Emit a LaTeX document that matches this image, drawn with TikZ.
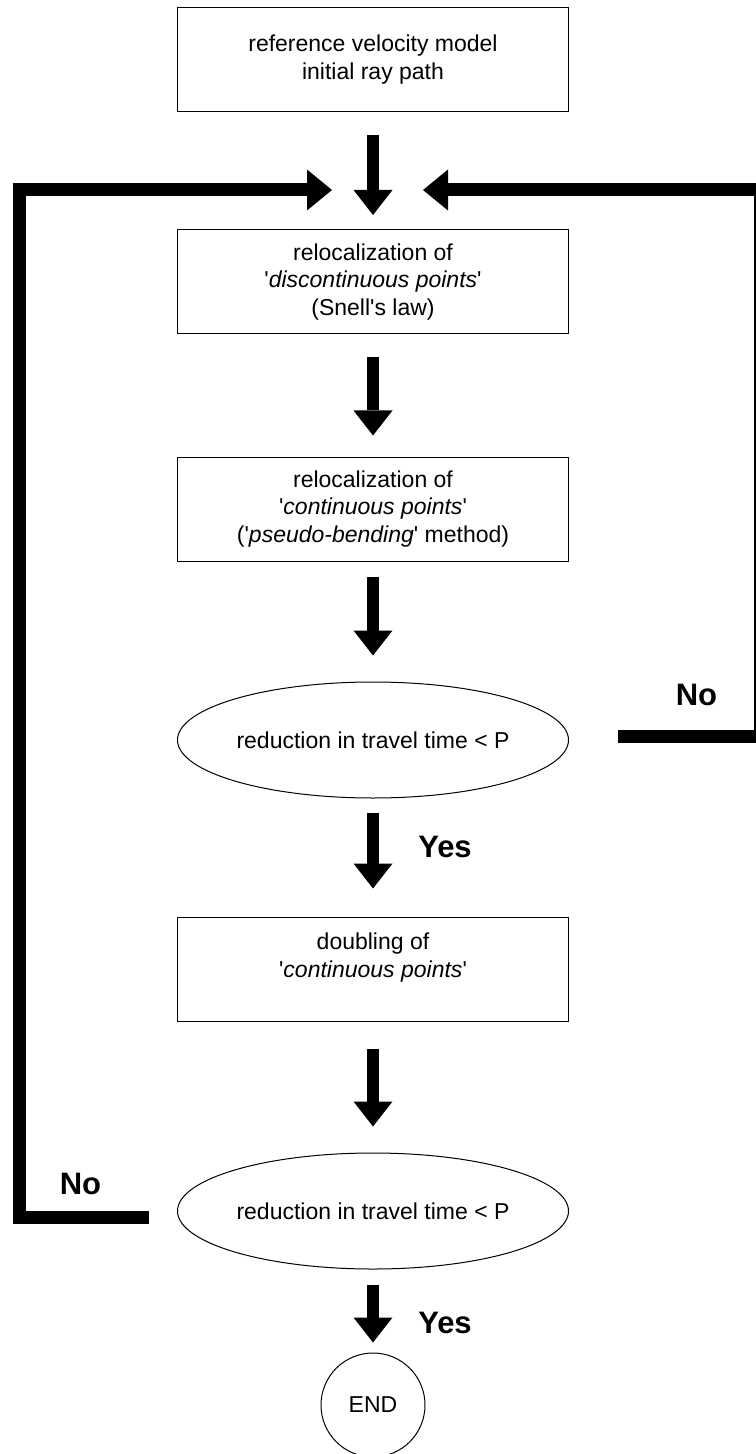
\documentclass[tikz,border=0pt]{standalone}
\usepackage{fontspec}
\setmainfont{Liberation Sans}
\usetikzlibrary{arrows.meta,shapes.geometric}
\newcommand{\apos}{\textquotesingle}

\begin{document}
\begin{tikzpicture}[x=0.5pt, y=-0.5pt,
        proc/.style={draw, line width=0.5pt, minimum width=195.5pt, minimum height=52pt,
                     inner sep=0pt, align=center, font=\fontsize{11.5}{13.8}\selectfont},
        test/.style={draw, ellipse, line width=0.5pt, minimum width=195.5pt, minimum height=58pt,
                     inner sep=0pt, font=\fontsize{11.5}{13.8}\selectfont},
        term/.style={draw, circle, line width=0.5pt, minimum size=52pt, inner sep=0pt,
                     font=\fontsize{11.5}{13.8}\selectfont},
        ans/.style={inner sep=0pt, font=\fontsize{15.5}{18}\selectfont\bfseries},
        flow/.style={line width=6pt, -{Triangle[width=19.5pt, length=12.5pt, line width=0pt]}},
        back/.style={line width=6.5pt, line join=miter, -{Triangle[width=20.5pt, length=12.5pt, line width=0pt]}}]
        \useasboundingbox (0,0) rectangle (755,1454);

        % Steps
        \node[proc] (model) at (373, 59.5) {reference velocity model\\ initial ray path};
        \node[proc] (disc) at (373, 282) {relocalization of\\ \apos\textit{discontinuous points}\apos\\ (Snell\apos s law)};
        \node[proc] (cont) at (373, 509) {relocalization of\\ \apos\textit{continuous points}\apos\\ (\apos\textit{pseudo-bending}\apos{} method)};
        \node[test] (check1) at (373, 740) {reduction in travel time < P};
        \node[proc] (double) at (373, 969) {doubling of\\ \apos\textit{continuous points}\apos\\ \mbox{}};
        \node[test] (check2) at (373, 1211) {reduction in travel time < P};
        \node[term] (stop) at (373, 1405) {END};

        % Meeting point of the three arrows and loose ends of the loops
        \coordinate (join) at (373, 215);
        \coordinate (inL) at (332, 190);
        \coordinate (inR) at (423, 190);
        \coordinate (noL) at (149, 1217);
        \coordinate (noR) at (618, 736);

        % Main flow
        \draw[flow, shorten <=11.5pt] (model) -- (join);
        \draw[flow, shorten <=11.5pt, shorten >=10.5pt] (disc) -- (cont);
        \draw[flow, shorten <=7.5pt, shorten >=13pt] (cont) -- (check1);
        \draw[flow, shorten <=7pt, shorten >=14pt] (check1) -- (double);
        \draw[flow, shorten <=13.5pt, shorten >=13pt] (double) -- (check2);
        \draw[flow, shorten <=7.5pt, shorten >=5pt] (check2) -- (stop);

        % Loops back
        \draw[back] (noL) -| (19, 190) -- (inL);
        \draw[back] (noR) -- (760.5, 736) -- (760.5, 190) -- (inR);

        % Answers
        \node[ans] (yes1) at (445, 846.5) {Yes};
        \node[ans] (yes2) at (445, 1322.5) {Yes};
        \node[ans] (no1) at (696.5, 695) {No};
        \node[ans] (no2) at (80.5, 1183.5) {No};
\end{tikzpicture}
\end{document}
